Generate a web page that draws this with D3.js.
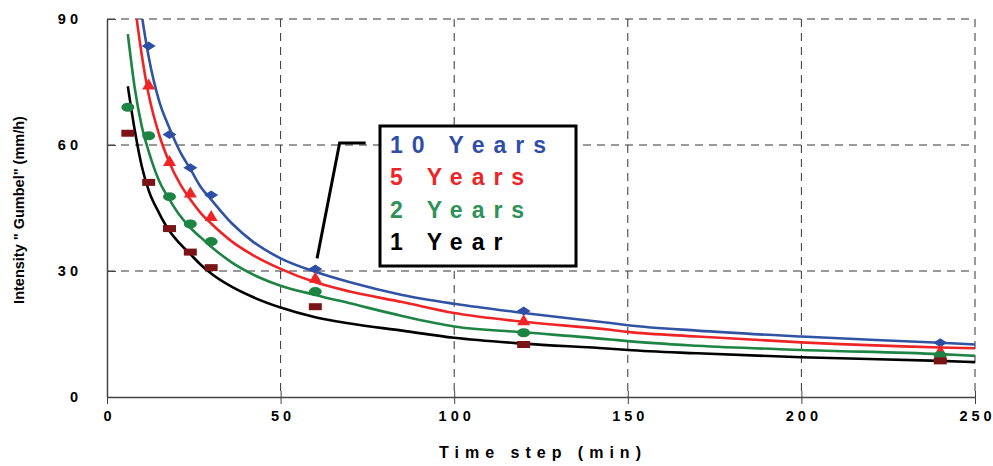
<!DOCTYPE html>
<html>
<head>
<script src="https://d3js.org/d3.v7.min.js"></script>
<style>
body { margin: 0; background: #fff; }
text { font-family: "Liberation Sans", Arial, sans-serif; font-weight: bold; }
</style>
</head>
<body>
<svg width="993" height="466"></svg>
<script>

// duration (min) where the fitted curves were read
const curveT = [6, 8, 10, 12, 15, 18, 21, 24, 27, 30, 36, 42, 50, 60, 70, 85, 100, 120, 145, 150, 170, 200, 240, 250];
const curve10 = [122, 103, 91, 81, 70.5, 64, 58.5, 54.3, 50, 47, 41.3, 37, 33, 29.8, 27.3, 24.3, 22.2, 20, 17.6, 17.1, 15.8, 14.4, 12.9, 12.5];
const curve5 = [113, 94, 81.5, 72, 62.5, 55.8, 50.8, 47, 43.8, 41.3, 37, 33.8, 30.5, 27.3, 25.1, 22.6, 20, 17.9, 16, 15.5, 14.4, 13, 11.8, 11.6];
const curve2 = [86.4, 73.5, 64.5, 58.5, 51.5, 47, 43.2, 40.3, 38, 35.8, 32, 29.2, 26.5, 24.3, 22.3, 19.3, 16.8, 15.4, 13.7, 13.3, 12.2, 11.2, 10.2, 9.8];
const curve1 = [74, 63.5, 55, 49.2, 43.8, 39.5, 36.5, 34, 31.5, 29.4, 26.2, 23.8, 21.3, 19, 17.5, 15.8, 14.1, 12.7, 11.5, 11.2, 10.4, 9.45, 8.6, 8.3];

// observed Gumbel intensities
const pointT = [6, 12, 18, 24, 30, 60, 120, 240];
const point10 = [null, 83.6, 62.5, 54.6, 48.1, 30.5, 20.5, 12.9];
const point5 = [null, 74.4, 56.2, 48.7, 43.1, 28.4, 18.3, 11];
const point2 = [69, 62.2, 47.7, 41.2, 37, 25.1, 15.3, 9.9];
const point1 = [62.8, 51.1, 40.1, 34.5, 30.8, 21.5, 12.5, 8.6];

const xTicks = [0, 50, 100, 150, 200, 250];
const yTicks = [0, 30, 60, 90];
const legendLabels = ["10 Years", "5 Years", "2 Years", "1 Year"];

var svg = d3.select("svg"),
    margin = {top: 19, right: 18, bottom: 69, left: 107},
    width = 993 - margin.left - margin.right,
    height = 466 - margin.top - margin.bottom,
    g = svg.append("g").attr("transform", "translate(" + margin.left + "," + margin.top + ")");

var x = d3.scaleLinear().domain([0, 250]).range([0, width]);
var y = d3.scaleLinear().domain([0, 90]).range([height, 0]);

var series = [
  {curve: curve10, pts: point10, line: "#3153a4", mark: "#2f4fa6", shape: "diamond"},
  {curve: curve5, pts: point5, line: "#ee2426", mark: "#ee2426", shape: "triangle"},
  {curve: curve2, pts: point2, line: "#1d8444", mark: "#1d8444", shape: "ellipse"},
  {curve: curve1, pts: point1, line: "#000000", mark: "#7a1416", shape: "rect"}
];
var legendColors = ["#2f4fa6", "#ee2426", "#2e9157", "#000000"];

svg.append("defs").append("clipPath").attr("id", "clip")
  .append("rect").attr("width", width).attr("height", height);

// grid
g.selectAll(".vgrid").data(xTicks.slice(1)).enter().append("line")
    .attr("x1", x).attr("x2", x).attr("y1", 0).attr("y2", height)
    .attr("stroke", "#333").attr("stroke-width", 1).attr("stroke-dasharray", "8,6");
g.selectAll(".hgrid").data(yTicks.slice(1)).enter().append("line")
    .attr("x1", 0).attr("x2", width).attr("y1", y).attr("y2", y)
    .attr("stroke", "#333").attr("stroke-width", 1).attr("stroke-dasharray", "8,6");

// axes
var xAxis = g.append("g").attr("transform", "translate(0," + height + ")")
    .call(d3.axisBottom(x).tickValues(xTicks).tickSizeInner(7).tickSizeOuter(0).tickFormat(d => String(d).split("").join(" ")));
xAxis.selectAll(".tick line").attr("y1", -6);
xAxis.selectAll("text").attr("font-size", 14.5).attr("dy", "0.95em").attr("fill", "#000")
    .attr("font-family", "Liberation Sans, Arial, sans-serif").attr("font-weight", "bold");

var yAxis = g.append("g")
    .call(d3.axisLeft(y).tickValues(yTicks).tickSizeInner(9).tickSizeOuter(0).tickPadding(20).tickFormat(d => String(d).split("").join(" ")));
yAxis.selectAll(".tick line").attr("x2", 9);
yAxis.selectAll("text").attr("font-size", 14.5).attr("fill", "#000")
    .attr("font-family", "Liberation Sans, Arial, sans-serif").attr("font-weight", "bold");
g.selectAll(".domain").attr("stroke", "#444").attr("stroke-width", 1.5);
g.selectAll(".tick line").attr("stroke", "#444");

// curves
var line = d3.line()
    .x(function(d) { return x(d[0]); })
    .y(function(d) { return y(d[1]); })
    .curve(d3.curveMonotoneX);

var plot = g.append("g").attr("clip-path", "url(#clip)");

series.forEach(function(s) {
  plot.append("path")
    .datum(curveT.map(function(t, i) { return [t, s.curve[i]]; }))
    .attr("fill", "none")
    .attr("stroke", s.line)
    .attr("stroke-width", 2.6)
    .attr("d", line);
});

// markers
function shapePath(shape, cx, cy) {
  if (shape === "diamond") return "M" + (cx - 7) + "," + cy + "L" + cx + "," + (cy - 4.5) + "L" + (cx + 7) + "," + cy + "L" + cx + "," + (cy + 4.5) + "Z";
  if (shape === "triangle") return "M" + (cx - 6.5) + "," + (cy + 5) + "L" + cx + "," + (cy - 6) + "L" + (cx + 6.5) + "," + (cy + 5) + "Z";
  if (shape === "rect") return "M" + (cx - 6.5) + "," + (cy - 3.5) + "h13v7h-13Z";
  return "M" + (cx - 6.5) + "," + cy + "a6.5,4.5 0 1,0 13,0a6.5,4.5 0 1,0 -13,0Z";
}

series.forEach(function(s) {
  plot.selectAll(null)
    .data(pointT.map(function(t, i) { return [t, s.pts[i]]; }).filter(function(d) { return d[1] != null; }))
    .enter().append("path")
      .attr("d", function(d) { return shapePath(s.shape, x(d[0]), y(d[1])); })
      .attr("fill", s.mark);
});

// legend with leader line
g.append("path")
    .attr("d", "M" + (x(60.5)) + "," + (y(33)) + "L" + (x(67)) + "," + (y(60.5)) + "L" + (x(74.5)) + "," + (y(60.5)))
    .attr("fill", "none").attr("stroke", "#000").attr("stroke-width", 3);

var legend = g.append("g").attr("transform", "translate(" + (380 - margin.left) + "," + (126 - margin.top) + ")");
legend.append("rect")
    .attr("width", 196).attr("height", 140)
    .attr("fill", "#fff").attr("stroke", "#000").attr("stroke-width", 3);
legend.selectAll("text").data(legendLabels).enter().append("text")
    .attr("x", 10)
    .attr("y", function(d, i) { return 27 + i * 32.3; })
    .attr("font-size", 23)
    .attr("letter-spacing", "9px")
    .attr("fill", function(d, i) { return legendColors[i]; })
    .text(function(d) { return d; });

// axis titles
svg.append("text")
    .attr("x", margin.left + width / 2 + 2).attr("y", 458)
    .attr("text-anchor", "middle").attr("font-size", 16).attr("letter-spacing", "6px")
    .text("Time step (min)");

svg.append("text")
    .attr("transform", "translate(24," + (margin.top + height / 2 + 2) + ") rotate(-90)")
    .attr("text-anchor", "middle").attr("font-size", 14.5)
    .text("Intensity \" Gumbel\" (mm/h)");

</script>
</body>
</html>
